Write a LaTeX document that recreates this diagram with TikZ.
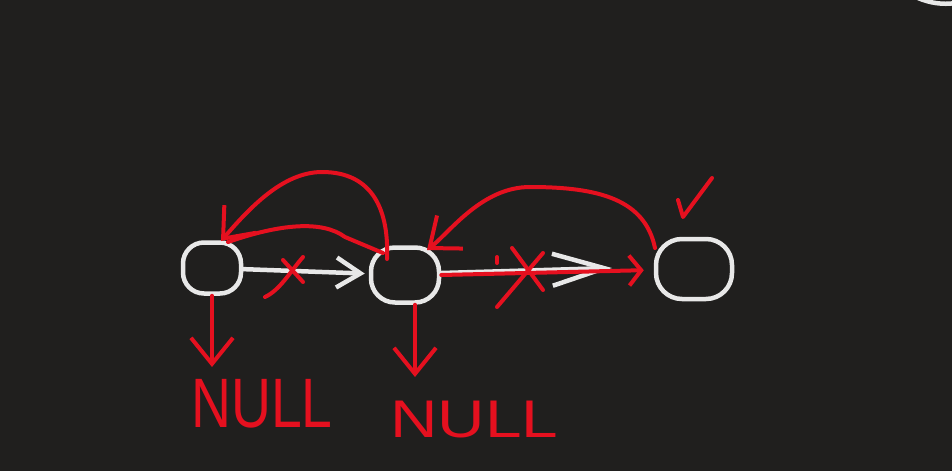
\documentclass[tikz,border=0pt]{standalone}
\usepackage{fontspec}
\setmainfont{Liberation Sans}
\usetikzlibrary{arrows.meta}
\definecolor{bgc}{HTML}{201F1E}
\definecolor{inkred}{HTML}{E5101F}
\definecolor{inkwhite}{HTML}{E8E8E8}
\tikzset{
  listnode/.style={draw=inkwhite, line width=4.5pt, rounded corners=21pt, inner sep=0pt},
  whitearrow/.style={draw=inkwhite, line width=4.5pt, line cap=round, line join=round,
    -{Straight Barb[length=24pt,width=30pt,line width=4.5pt]}},
  redarrow/.style={draw=inkred, line width=4pt, line cap=round, line join=round,
    -{Straight Barb[length=26pt,width=42pt,line width=4pt]}},
  redline/.style={draw=inkred, line width=4pt, line cap=round, line join=round},
  nulltext/.style={text=inkred, inner sep=0pt, anchor=base west}
}
\begin{document}
\begin{tikzpicture}[x=1pt,y=-1pt]
\fill[bgc] (0,0) rectangle (952,471);
\useasboundingbox (0,0) rectangle (952,471);
% faint stroke at top-right corner
\draw[inkwhite, line width=4.5pt, line cap=round] (918,-2) .. controls (930,3) and (942,5) .. (956,3);

% nodes
\node[listnode, minimum width=58pt, minimum height=51pt] (n1) at (212,268) {};
\node[listnode, minimum width=68pt, minimum height=55pt, rounded corners=24pt] (n2) at (405,275) {};
\node[listnode, minimum width=76pt, minimum height=60pt, rounded corners=26pt] (n3) at (694,269) {};

% white forward links
\draw[whitearrow, shorten >=4pt] (n1) -- (n2);
\coordinate (w2) at (612,268);
\draw[whitearrow, -{Straight Barb[length=52pt,width=32pt,line width=4.5pt]}] ([yshift=2pt]n2.east) -- (w2);

% red crossed marks on first link
\draw[redline] (283,260) -- (303,282);
\draw[redline] (303,257) .. controls (290,272) and (280,290) .. (265,297);

% red overwritten link n2 -> n3
\draw[redarrow, -{Straight Barb[length=12pt,width=30pt,line width=4pt]}, shorten >=10pt] (n2.east) -- (n3);
\draw[redline] (512,248) -- (543,290);
\draw[redline] (543,253) -- (497,307);
\draw[redline] (497,257) -- (497,263);

% red reversed arc n2 -> n1
\coordinate (a1s) at (387,259);
\coordinate (a1e) at (221,241);
\draw[redarrow] (a1s) .. controls (389,212) and (374,172) .. (322,172)
  .. controls (282,172) and (248,210) .. (a1e);
\draw[redline] (228,242) .. controls (280,224) and (322,220) .. (345,237) -- (383,253);

% red reversed arc n3 -> n2
\coordinate (a2s) at (655,248);
\coordinate (a2e) at (427,250);
\draw[redarrow] (a2s) .. controls (645,200) and (600,187) .. (530,187)
  .. controls (482,187) and (450,232) .. (a2e);

% check mark
\draw[redline] (678,200) -- (683,217) -- (712,178);

% NULL pointers
\coordinate (d1) at (212,367);
\coordinate (d2) at (415,377);
\draw[redarrow] (n1.south -| d1) -- (d1);
\draw[redarrow] (n2.south -| d2) -- (d2);

\node[nulltext] at (191,427) {\fontsize{70}{70}\selectfont\scalebox{0.79}[1]{NULL}};
\node[nulltext] at (390,437) {\fontsize{53}{53}\selectfont\scalebox{1.24}[1]{NULL}};
\end{tikzpicture}
\end{document}
